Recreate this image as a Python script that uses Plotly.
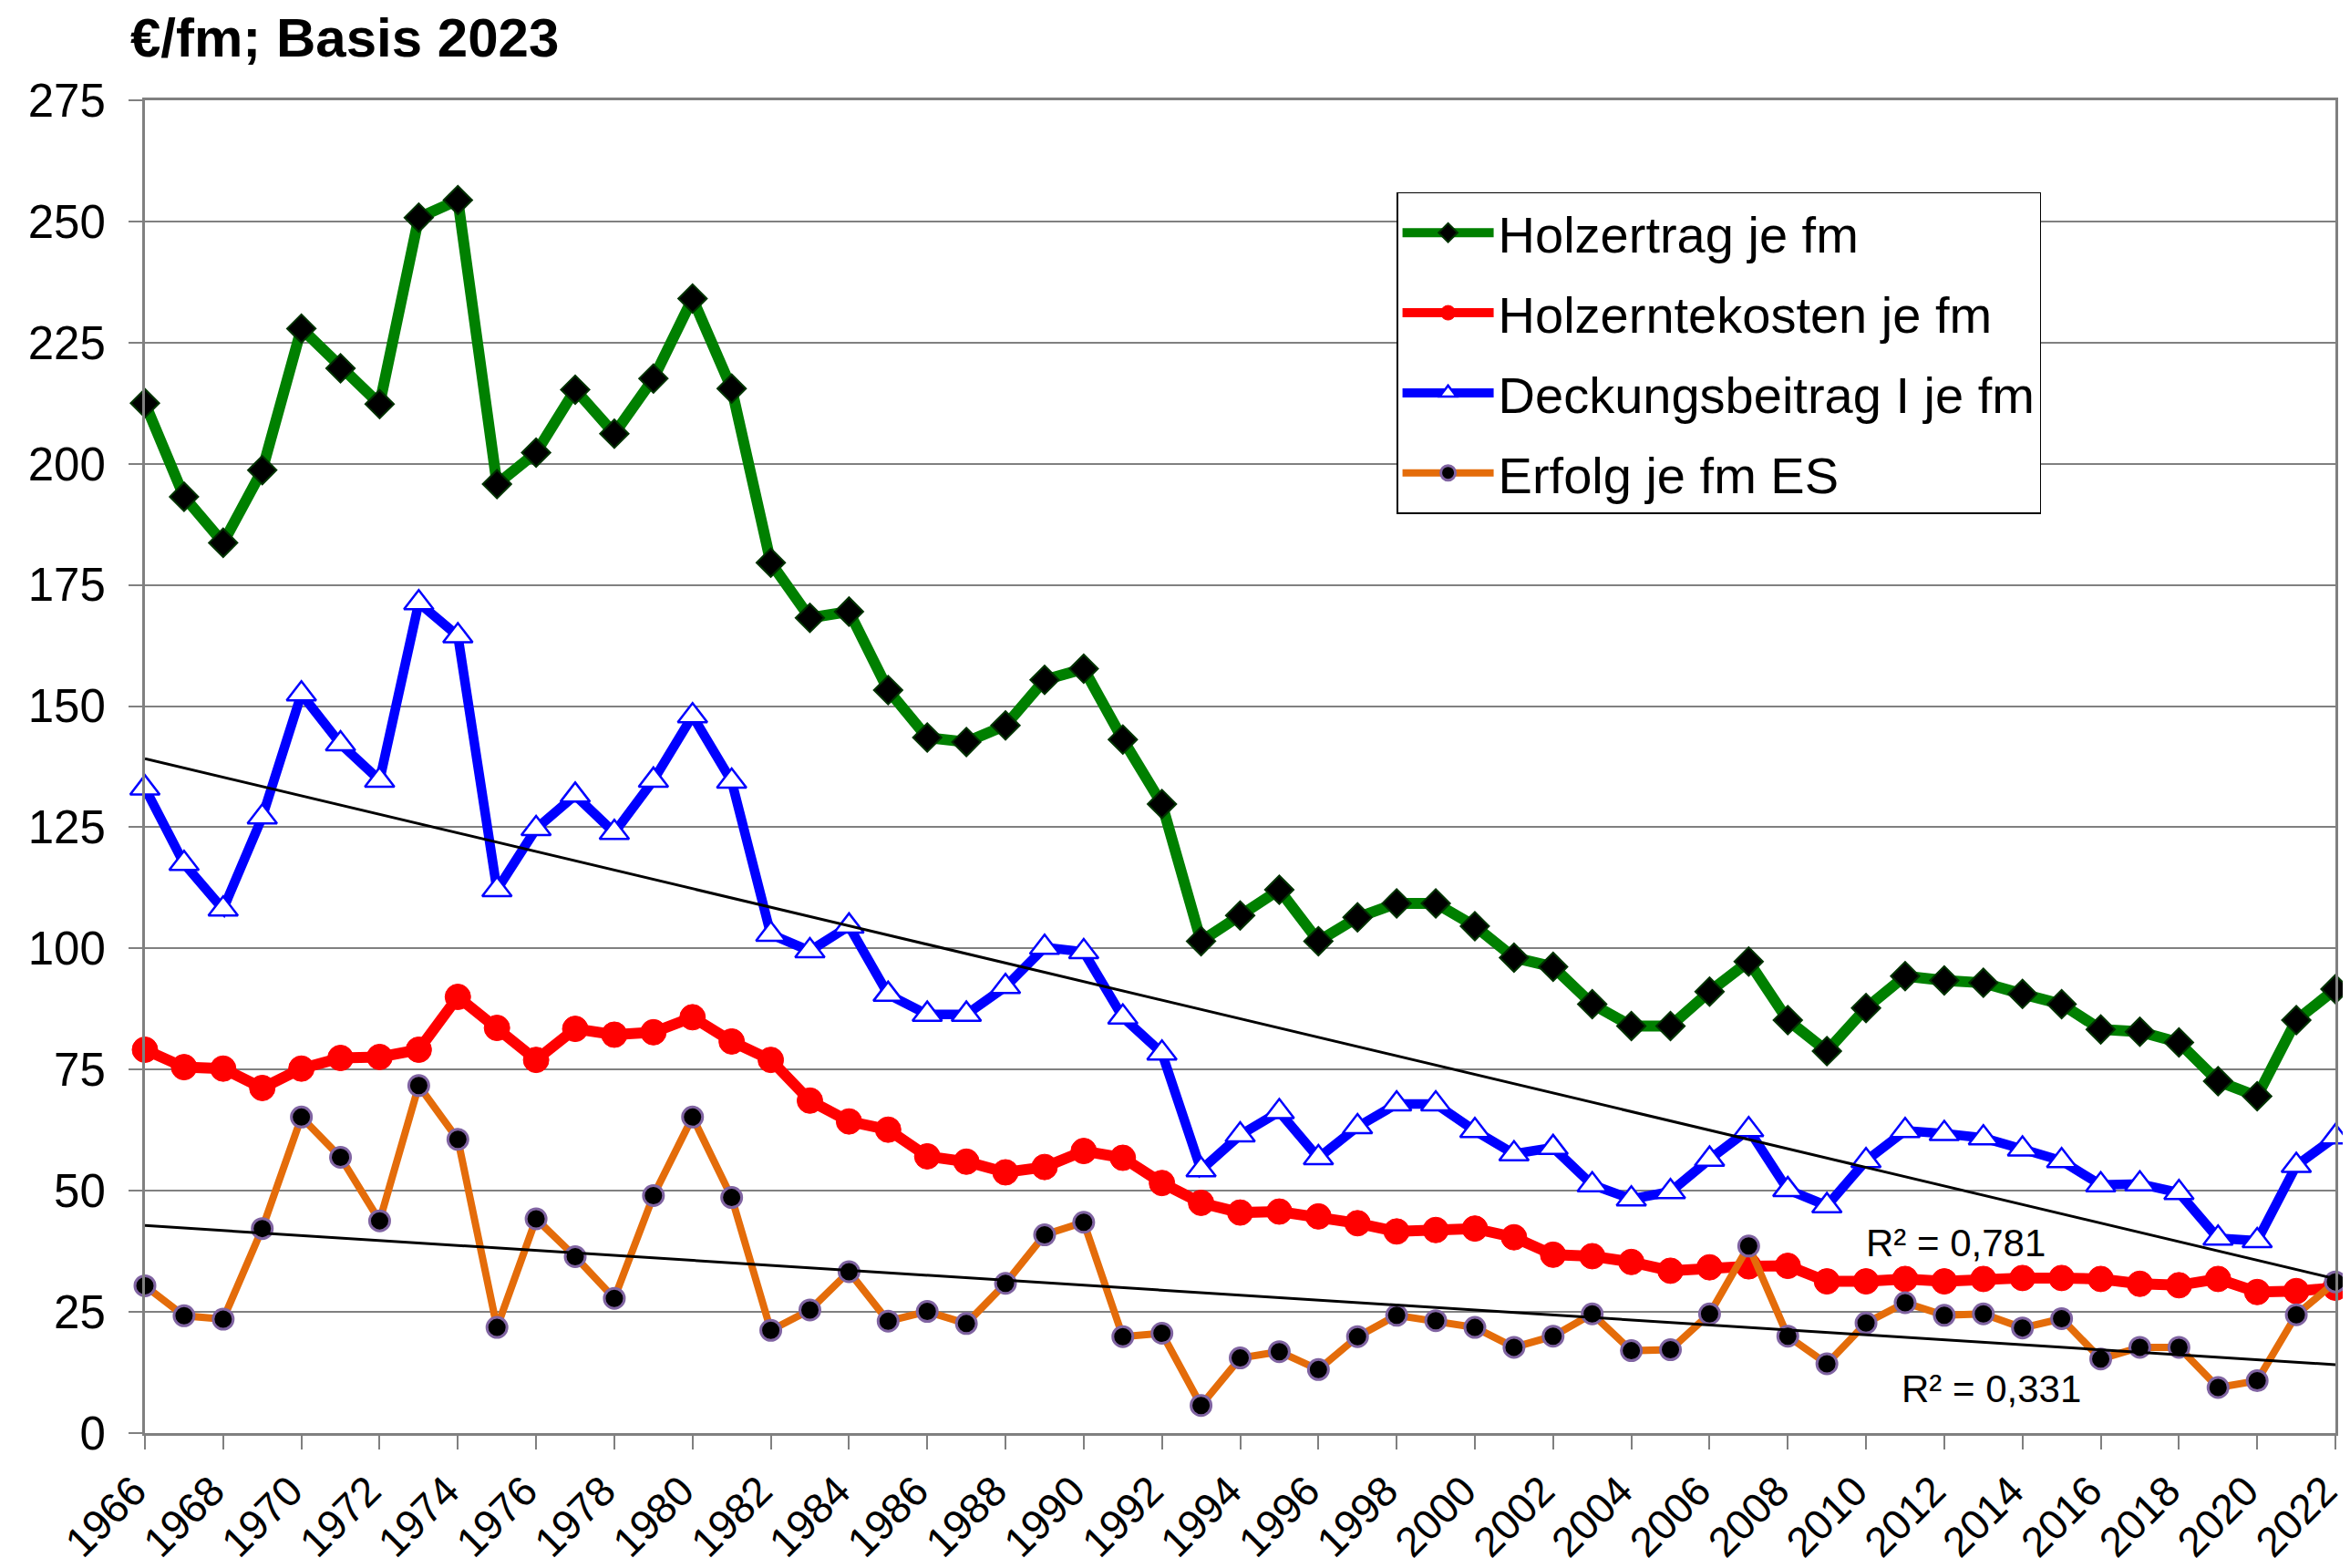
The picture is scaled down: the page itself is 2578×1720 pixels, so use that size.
import numpy as np
import plotly.graph_objects as go

years = list(range(1966, 2023))

holzertrag = [212.5, 193.2, 183.7, 198.7, 227.9, 219.7, 212.3, 250.8, 254.4, 195.8,
              202.3, 215.3, 206.2, 217.6, 234.1, 215.5, 179.6, 168.2, 169.5, 153.3,
              143.5, 142.6, 146.0, 155.4, 157.7, 143.1, 129.8, 101.5, 106.8, 112.1,
              101.5, 106.4, 109.3, 109.3, 104.6, 98.1, 96.2, 88.5, 84.0, 84.0,
              91.1, 97.3, 85.2, 78.8, 87.7, 94.3, 93.4, 92.9, 90.6, 88.5,
              83.3, 82.8, 80.6, 72.6, 69.5, 85.2, 91.6]

holzerntekosten = [79.1, 75.5, 75.2, 71.2, 75.2, 77.4, 77.6, 79.1, 90.0, 83.6,
                   77.0, 83.4, 82.2, 82.7, 85.8, 80.8, 77.0, 68.6, 64.3, 62.6,
                   57.1, 56.0, 53.8, 54.9, 58.2, 56.8, 51.6, 47.5, 45.5, 45.7,
                   44.7, 43.3, 41.6, 41.9, 42.2, 40.4, 36.8, 36.5, 35.3, 33.5,
                   34.2, 34.4, 34.5, 31.3, 31.3, 31.8, 31.3, 31.8, 32.0, 32.0,
                   31.8, 30.8, 30.5, 31.8, 29.1, 29.3, 30.0]

deckungsbeitrag = [133.1, 117.5, 108.1, 127.1, 152.5, 142.2, 134.7, 171.3, 164.5, 112.1,
                   124.7, 131.6, 123.9, 134.7, 148.0, 134.5, 102.9, 99.5, 104.6, 90.5,
                   86.4, 86.4, 92.1, 100.2, 99.3, 85.8, 78.4, 54.3, 61.5, 66.3,
                   56.8, 63.2, 67.9, 67.9, 62.4, 57.6, 58.9, 51.2, 48.3, 49.8,
                   56.5, 62.6, 50.2, 46.9, 56.2, 62.4, 61.8, 60.9, 58.6, 56.2,
                   51.2, 51.4, 49.6, 40.2, 39.7, 55.2, 61.1]

erfolg = [30.4, 24.2, 23.5, 42.2, 65.2, 56.9, 43.8, 71.7, 60.6, 21.8,
          44.2, 36.4, 27.8, 49.0, 65.2, 48.6, 21.2, 25.4, 33.3, 23.1,
          25.1, 22.6, 30.9, 40.9, 43.5, 19.9, 20.6, 5.7, 15.5, 16.8,
          13.1, 19.9, 24.3, 23.2, 21.8, 17.7, 20.0, 24.6, 17.0, 17.2,
          24.6, 38.6, 20.0, 14.3, 22.7, 26.9, 24.3, 24.6, 21.7, 23.6,
          15.3, 17.7, 17.7, 9.4, 10.8, 24.4, 31.2]

x_tick_years = years[::2]
y_ticks = list(range(0, 276, 25))

names = ["Holzertrag je fm", "Holzerntekosten je fm", "Deckungsbeitrag I je fm", "Erfolg je fm ES"]
r2_labels = ["R² = 0,781", "R² = 0,331"]
title_text = "€/fm; Basis 2023"

FONT = "Liberation Sans, Arial, sans-serif"

fig = go.Figure()

fig.add_trace(go.Scatter(
    x=years, y=holzertrag, name=names[0], mode="lines+markers", legendgroup="a",
    line=dict(color="#008000", width=12),
    marker=dict(symbol="diamond", size=24, color="#000000", line=dict(color="#003300", width=2)),
    cliponaxis=False))
fig.add_trace(go.Scatter(
    x=years, y=holzerntekosten, name=names[1], mode="lines+markers", legendgroup="b",
    line=dict(color="#FF0000", width=12),
    marker=dict(symbol="circle", size=28, color="#FF0000", line=dict(color="#FF0000", width=1)),
    cliponaxis=False))
fig.add_trace(go.Scatter(
    x=years, y=deckungsbeitrag, name=names[2], mode="lines+markers", legendgroup="c",
    line=dict(color="#0000FF", width=10.5),
    marker=dict(symbol="triangle-up", size=28, color="#FFFFFF", line=dict(color="#0000FF", width=2.5)),
    cliponaxis=False))
fig.add_trace(go.Scatter(
    x=years, y=erfolg, name=names[3], mode="lines+markers", legendgroup="d",
    line=dict(color="#E46C0A", width=8),
    marker=dict(symbol="circle", size=22, color="#000000", line=dict(color="#8064A2", width=3)),
    cliponaxis=False))

# linear trend lines (least squares fit of the series)
xa = np.array(years, dtype=float)
for series in (deckungsbeitrag, erfolg):
    k, d = np.polyfit(xa, np.array(series), 1)
    xs = [years[0], years[-1]]
    fig.add_trace(go.Scatter(
        x=xs, y=[k * xs[0] + d, k * xs[1] + d], mode="lines",
        line=dict(color="#000000", width=3), showlegend=False, hoverinfo="skip",
        cliponaxis=False))

fig.add_annotation(x=2012.3, y=39.3, xref="x", yref="y", text=r2_labels[0],
                   showarrow=False, font=dict(family=FONT, size=42, color="#000000"))
fig.add_annotation(x=2013.2, y=9.2, xref="x", yref="y", text=r2_labels[1],
                   showarrow=False, font=dict(family=FONT, size=42, color="#000000"))
fig.add_annotation(x=-0.0075, y=1.047, xref="paper", yref="paper", xanchor="left", yanchor="middle",
                   text="<b>" + title_text + "</b>", showarrow=False,
                   font=dict(family=FONT, size=60, color="#000000"))

# page body has an 8px margin: compensate so the plot area sits where the reference has it
fig.update_layout(
    width=2570, height=1712,
    margin=dict(l=151, r=16, t=102, b=148, autoexpand=False),
    paper_bgcolor="white", plot_bgcolor="white",
    font=dict(family=FONT, size=50, color="#000000"),
    showlegend=True,
    legend=dict(x=0.5714, y=0.931, xanchor="left", yanchor="top",
                bgcolor="white", bordercolor="#000000", borderwidth=1.5,
                font=dict(family=FONT, size=56, color="#000000"),
                tracegroupgap=12, itemwidth=100),
)
fig.update_xaxes(range=[1966, 2022], tickmode="array", tickvals=x_tick_years,
                 ticktext=[str(v) for v in x_tick_years],
                 tickangle=-45, ticks="outside", ticklen=15, tickwidth=2, tickcolor="#808080",
                 showline=True, mirror=True, linecolor="#808080", linewidth=3,
                 showgrid=False, zeroline=False, ticklabelstandoff=0,
                 ticklabelshift=-12, ticklabeloverflow="allow",
                 tickfont=dict(family=FONT, size=46, color="#000000"))
fig.update_yaxes(range=[0, 275], tickmode="array", tickvals=y_ticks,
                 ticks="outside", ticklen=15, tickwidth=2, tickcolor="#808080",
                 showline=True, mirror=True, linecolor="#808080", linewidth=3,
                 showgrid=True, gridcolor="#808080", gridwidth=1.5, zeroline=False,
                 ticklabelstandoff=15,
                 tickfont=dict(family=FONT, size=51, color="#000000"))

fig.write_html("out.html")
